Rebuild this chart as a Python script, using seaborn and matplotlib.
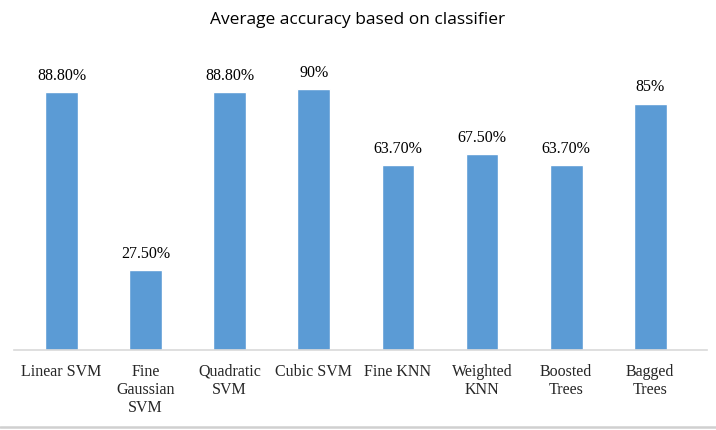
import pandas as pd
import matplotlib
matplotlib.use('Agg')
import matplotlib.pyplot as plt
import seaborn as sns

# Datos
clasificadores = ['Linear SVM', 'Fine\nGaussian\nSVM', 'Quadratic\nSVM', 'Cubic SVM',
                  'Fine KNN', 'Weighted\nKNN', 'Boosted\nTrees', 'Bagged\nTrees']
precision = [88.8, 27.5, 88.8, 90, 63.7, 67.5, 63.7, 85]
etiquetas = ['88.80%', '27.50%', '88.80%', '90%', '63.70%', '67.50%', '63.70%', '85%']

sns.set_style('white')
plt.rcParams['font.family'] = ['Liberation Serif', 'DejaVu Serif']

df = pd.DataFrame({'Clasificador': clasificadores, 'Precision': precision})

fig = plt.figure(figsize=(7.16, 4.30), dpi=100)
ax = fig.add_axes([14 / 716, 80 / 430, 693 / 716, 290 / 430])

sns.barplot(data=df, x='Clasificador', y='Precision', color='#5B9BD5',
            width=0.39, saturation=1, ax=ax)

# Etiquetas sobre las barras
for p, txt in zip(ax.patches, etiquetas):
    ax.annotate(txt, xy=(p.get_x() + p.get_width() / 2, p.get_height()),
                xytext=(0, 6), textcoords='offset points',
                ha='center', va='bottom', fontsize=11.5, color='black')

ax.set_xlim(-0.565, 7.675)
ax.set_ylim(0, 100)
ax.set_xlabel('')
ax.set_ylabel('')
ax.set_yticks([])
ax.tick_params(axis='x', length=0, pad=10, labelsize=11.5)
for lbl in ax.get_xticklabels():
    lbl.set_linespacing(1.17)
    lbl.set_verticalalignment('top')

for s in ['top', 'left', 'right']:
    ax.spines[s].set_visible(False)
ax.spines['bottom'].set_color('#D9D9D9')
ax.spines['bottom'].set_linewidth(1.2)

fig.text(0.5, 1 - 20 / 430, 'Average accuracy based on classifier',
         ha='center', va='center', fontsize=12.5,
         family=['Open Sans', 'DejaVu Sans'], color='black')

# Borde inferior del área del gráfico
fig.add_artist(plt.Line2D([0, 1], [3 / 430, 3 / 430], color='#D0D0D0', linewidth=1.8))

fig.savefig('out.png', dpi=100)
plt.close(fig)
